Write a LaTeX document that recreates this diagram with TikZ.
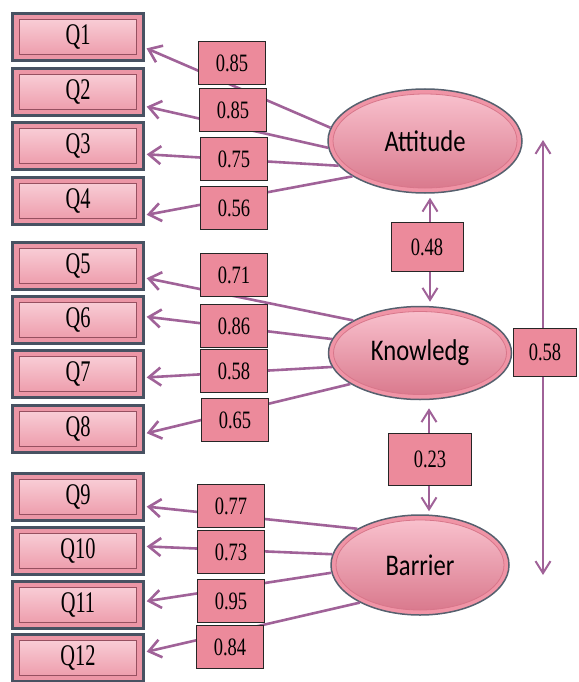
\documentclass[tikz,border=0pt]{standalone}
\usepackage{fontspec}
\usepackage{tikz}
\usetikzlibrary{shapes.geometric, arrows.meta, positioning, calc}
\newfontfamily\qfont[FakeStretch=0.68]{Liberation Serif}
\newfontfamily\numfont[FakeStretch=0.74]{Liberation Serif}
\newfontfamily\latfont[FakeStretch=0.82]{Carlito}
\definecolor{qedge}{RGB}{72,82,98}
\definecolor{qpink}{RGB}{236,150,166}
\definecolor{qlight}{RGB}{250,212,220}
\definecolor{qdark}{RGB}{150,80,96}
\definecolor{epink}{RGB}{240,148,166}
\definecolor{elight}{RGB}{250,196,208}
\definecolor{edeep}{RGB}{216,118,138}
\definecolor{eedge}{RGB}{86,96,110}
\definecolor{vpink}{RGB}{236,138,155}
\definecolor{lcol}{RGB}{160,98,152}

\begin{document}
\begin{tikzpicture}[x=1pt, y=1pt,
    qbox/.style={rectangle, draw=qedge, line width=2.4pt, fill=qpink,
        minimum width=131pt, minimum height=47pt, inner sep=0pt,
        font=\qfont\fontsize{30}{30}\selectfont,
        path picture={\draw[qdark, line width=1.2pt, top color=qlight, bottom color=qpink]
            ([shift={(7pt,-6pt)}]path picture bounding box.north west) rectangle
            ([shift={(-7pt,6pt)}]path picture bounding box.south east);}},
    latent/.style={ellipse, draw=eedge, line width=1.5pt, fill=epink, inner sep=0pt,
        font=\latfont\fontsize{30}{30}\selectfont,
        path picture={\path let \p1=(path picture bounding box.north east),
            \p2=(path picture bounding box.center) in
            [top color=elight, bottom color=edeep, draw=edeep, line width=0.8pt]
            (\p2) ellipse [x radius={\x1-\x2-5pt}, y radius={\y1-\y2-5pt}];}},
    valbox/.style={rectangle, draw=black!85, line width=1pt, fill=vpink,
        minimum width=67pt, minimum height=43pt, inner sep=0pt,
        font=\numfont\fontsize{25}{25}\selectfont},
    load/.style={draw=lcol, line width=2.6pt, shorten >=2pt,
        -{Straight Barb[length=12pt, width=18pt]}},
    corr/.style={draw=lcol, line width=2pt,
        {Straight Barb[length=12pt, width=15pt]}-{Straight Barb[length=12pt, width=15pt]}}]
    \useasboundingbox (0,0) rectangle (578,-682);

    \foreach \i/\y in {1/37, 2/92, 3/146, 4/201, 5/266, 6/320, 7/374, 8/429,
                      9/497, 10/551, 11/605, 12/658}
        \node[qbox] (q\i) at (78,-\y) {Q\i};

    \node[latent, minimum width=194pt, minimum height=104pt] (att) at (425,-141) {Attitude};
    \node[latent, minimum width=183pt, minimum height=93pt] (know) at (420,-353) {Knowledg};
    \node[latent, minimum width=178pt, minimum height=100pt] (bar) at (420,-565) {Barrier};

    \foreach \f/\a/\q/\b in {att/172/q1/-9, att/184/q2/-12, att/196/q3/-7, att/206/q4/-12,
                             know/154/q5/-10, know/171/q6/3, know/189/q7/-3, know/204/q8/-4,
                             bar/150/q9/-8, bar/173/q10/4, bar/185/q11/3, bar/212/q12/5}
        \draw[load] (\f.\a) to (\q.\b);

    \coordinate (ctop) at (543,-140);
    \coordinate (cbot) at (543,-575);
    \draw[corr, shorten <=4pt, shorten >=4pt] ([xshift=5pt]att.south) to ([xshift=10pt]know.north);
    \draw[corr, shorten <=8pt, shorten >=3pt] ([xshift=9pt]know.south) to ([xshift=9pt]bar.north);
    \draw[corr] (ctop) to (cbot);

    \foreach \i/\x/\y/\v in {1/232/63/0.85, 2/233/110/0.85, 3/234/159/0.75, 4/234/208/0.56,
                             5/234/275/0.71, 6/234/326/0.86, 7/234/371/0.58, 8/235/420/0.65,
                             9/231/506/0.77, 10/231/552/0.73, 11/231/601/0.95, 12/230/647/0.84}
        \node[valbox] (l\i) at (\x,-\y) {\v};

    \node[valbox, minimum width=72pt, minimum height=49pt] (r1) at (427,-247) {0.48};
    \node[valbox, minimum width=83pt, minimum height=52pt] (r2) at (430,-459) {0.23};
    \node[valbox, minimum width=63pt, minimum height=48pt] (r3) at (545,-352) {0.58};
\end{tikzpicture}
\end{document}
